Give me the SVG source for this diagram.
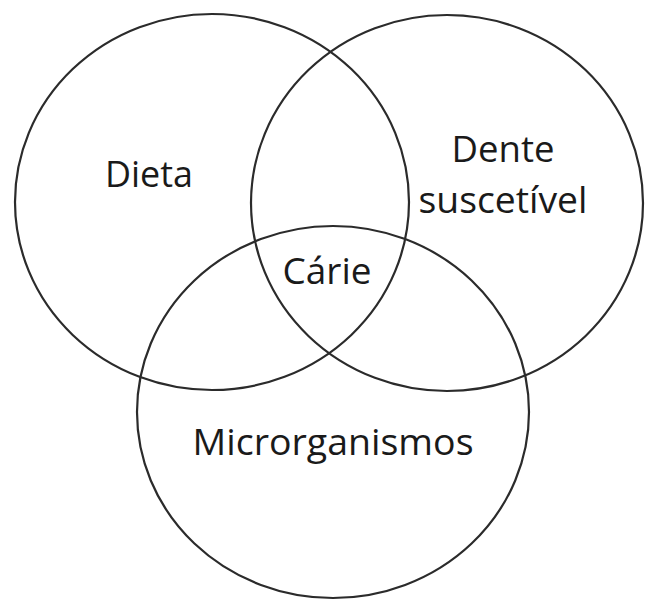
<svg xmlns="http://www.w3.org/2000/svg" width="645" height="600" viewBox="0 0 645 600">
<style>
.set{fill:none;stroke:#2b2b2b;stroke-width:2.2}
.lbl{font-family:"Open Sans","Noto Sans",sans-serif;font-size:36px;fill:#1a1a1a;text-anchor:middle}
</style>
<rect width="645" height="600" fill="#ffffff"/>
<g id="dieta">
<ellipse class="set" cx="212" cy="202" rx="197" ry="188"/>
<text class="lbl" x="149" y="187" textLength="88" lengthAdjust="spacingAndGlyphs">Dieta</text>
</g>
<g id="dente">
<ellipse class="set" cx="447" cy="203" rx="196" ry="188"/>
<text class="lbl" x="503" y="162" textLength="103" lengthAdjust="spacingAndGlyphs">Dente</text>
<text class="lbl" x="503" y="213" textLength="169" lengthAdjust="spacingAndGlyphs">suscetível</text>
</g>
<g id="micro">
<ellipse class="set" cx="333" cy="412" rx="196" ry="186"/>
<text class="lbl" x="333" y="455" textLength="281" lengthAdjust="spacingAndGlyphs">Microrganismos</text>
</g>
<g id="carie">
<text class="lbl" x="327" y="284" textLength="89" lengthAdjust="spacingAndGlyphs">Cárie</text>
</g>
<g id="connectors"></g>
</svg>
